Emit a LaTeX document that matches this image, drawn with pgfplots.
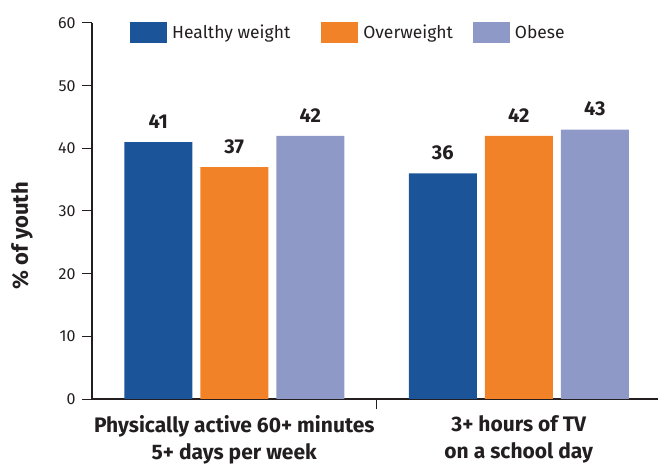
\documentclass[border=0pt]{standalone}
\usepackage{pgfplots}
\pgfplotsset{compat=1.18}
\usepackage{fontspec}
\setmainfont{Fira Sans}
\definecolor{hw}{HTML}{1C5499}
\definecolor{ow}{HTML}{F28228}
\definecolor{ob}{HTML}{8E99C7}
\definecolor{ink}{HTML}{231F20}
\begin{document}
\begin{tikzpicture}
\path[use as bounding box] (0bp,0bp) rectangle (658bp,464bp);
\begin{axis}[
  at={(92bp,65bp)}, anchor=south west,
  scale only axis, width=569bp, height=376bp,
  xmin=-0.5, xmax=1.5, ymin=0, ymax=60,
  axis x line=bottom, axis y line=left,
  axis line style={-, ink, line width=1.1bp},
  ytick={0,10,...,60},
  tick align=outside, major tick length=10bp,
  tick style={ink, line width=1bp},
  yticklabel style={font=\fontsize{16bp}{18bp}\selectfont, text=ink, xshift=-3bp},
  /pgf/number format/assume math mode=true,
  xtick={0.5}, xticklabels={},
  extra x ticks={0,1},
  extra x tick labels={Physically active 60+ minutes\\5+ days per week, 3+ hours of TV\\on a school day},
  extra x tick style={major tick length=0pt, tick style={draw=none},
    xticklabel style={align=center, font=\bfseries\fontsize{21bp}{27bp}\selectfont, text=ink, yshift=-13bp}},
  ylabel={\% of youth},
  ylabel style={font=\bfseries\fontsize{22bp}{24bp}\selectfont, text=ink, at={(axis description cs:-0.123,0.434)}, anchor=center},
  ybar, bar shift auto,
  enlarge x limits=false,
  nodes near coords,
  every node near coord/.append style={font=\bfseries\fontsize{20bp}{22bp}\selectfont, text=ink, yshift=10bp},
  legend columns=3,
  legend style={draw=none, fill=none, at={(0.0668,1.003)}, anchor=north west, inner sep=0pt,
    font=\fontsize{17.5bp}{19bp}\selectfont, text=ink,
    /tikz/every odd column/.append style={column sep=3bp},
    /tikz/column 2/.append style={column sep=29bp},
    /tikz/column 4/.append style={column sep=18bp}},
  legend image code/.code={\fill[#1] (0bp,-10.5bp) rectangle (37bp,10.5bp);},
]
\addplot[fill=hw, draw=none, bar width=68bp, bar shift=-76bp] coordinates {(0,41) (1,36)};
\addplot[fill=ow, draw=none, bar width=68bp, bar shift=0bp] coordinates {(0,37) (1,42)};
\addplot[fill=ob, draw=none, bar width=68bp, bar shift=76bp] coordinates {(0,42) (1,43)};
\legend{Healthy weight, Overweight, Obese}
\end{axis}
\end{tikzpicture}
\end{document}
